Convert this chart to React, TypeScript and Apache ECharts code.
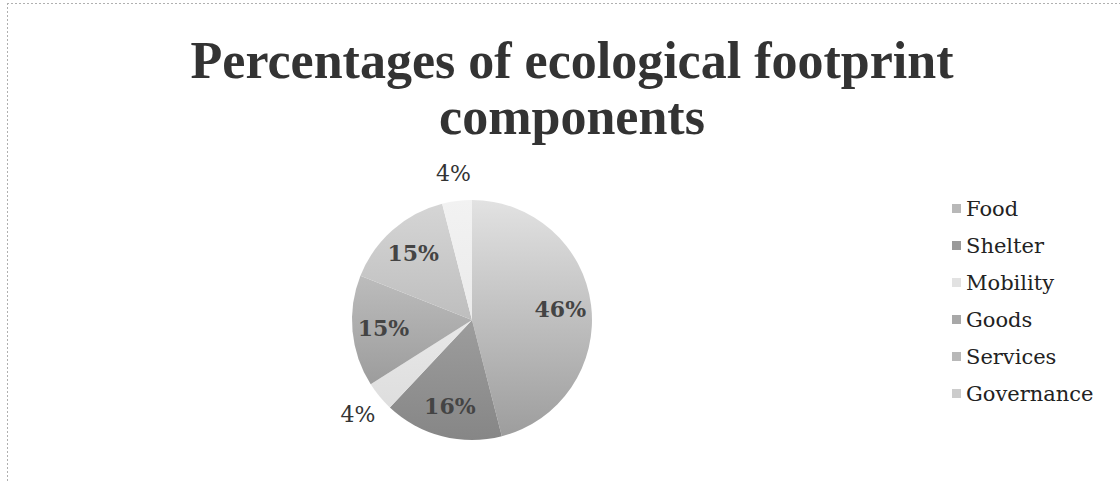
import React, { useEffect, useRef } from "react";
import * as echarts from "echarts";

const titleLines = ["Percentages of ecological footprint", "components"];
const categories = ["Food", "Shelter", "Mobility", "Goods", "Services", "Governance"];
const values = [46, 16, 4, 15, 15, 4];
const insideLabelled = [true, true, false, true, true, false];
const sliceTop = ["#e2e2e2", "#b4b4b4", "#f6f6f6", "#d2d2d2", "#d6d6d6", "#f2f2f2"];
const sliceBottom = ["#9c9c9c", "#868686", "#dadada", "#8c8c8c", "#a6a6a6", "#e4e4e4"];
const legendColors = ["#b8b8b8", "#9a9a9a", "#e2e2e2", "#a8a8a8", "#b8b8b8", "#cccccc"];

const CX = 472;
const CY = 320;
const R = 120;

export default function App() {
  const ref = useRef<HTMLDivElement>(null);

  useEffect(() => {
    if (!ref.current) return;
    const chart = echarts.init(ref.current, undefined, { renderer: "svg" });

    const grad = (i: number) => ({
      type: "linear",
      x: 0,
      y: CY - R,
      x2: 0,
      y2: CY + R,
      global: true,
      colorStops: [
        { offset: 0, color: sliceTop[i] },
        { offset: 1, color: sliceBottom[i] },
      ],
    });

    const transparent = { color: "rgba(0,0,0,0)", borderWidth: 0 };

    const option: any = {
      animation: false,
      backgroundColor: "#ffffff",
      graphic: [
        {
          type: "line",
          shape: { x1: 7, y1: 3.5, x2: 1120, y2: 3.5 },
          style: { stroke: "#b0b0b0", lineWidth: 1, lineDash: [2, 2] },
          silent: true,
        },
        {
          type: "line",
          shape: { x1: 7.5, y1: 3, x2: 7.5, y2: 482 },
          style: { stroke: "#b0b0b0", lineWidth: 1, lineDash: [2, 2] },
          silent: true,
        },
        ...titleLines.map((t, i) => ({
          type: "text",
          x: 572,
          y: 60 + i * 56,
          silent: true,
          style: {
            text: t,
            align: "center",
            verticalAlign: "middle",
            fill: "#333333",
            font: "bold 52px 'Liberation Serif'",
          },
        })),
      ],
      legend: {
        orient: "vertical",
        left: 947,
        top: 192,
        itemWidth: 9,
        itemHeight: 9,
        itemGap: 14,
        icon: "rect",
        selectedMode: false,
        textStyle: {
          fontFamily: "DejaVu Serif",
          fontSize: 21,
          lineHeight: 23,
          color: "#222222",
        },
        data: categories.map((c, i) => ({
          name: c,
          itemStyle: { color: legendColors[i] },
        })),
      },
      series: [
        {
          type: "pie",
          name: "main",
          center: [CX, CY],
          radius: [0, R],
          startAngle: 90,
          clockwise: true,
          avoidLabelOverlap: false,
          label: { show: false },
          labelLine: { show: false },
          emphasis: { disabled: true },
          data: categories.map((c, i) => ({
            name: c,
            value: values[i],
            itemStyle: { color: grad(i), borderWidth: 0 },
          })),
        },
        {
          type: "pie",
          name: "innerLabels",
          center: [CX, CY],
          radius: [0, 172],
          startAngle: 90,
          clockwise: true,
          silent: true,
          avoidLabelOverlap: false,
          emphasis: { disabled: true },
          labelLine: { show: false },
          itemStyle: transparent,
          label: {
            position: "inside",
            formatter: "{c}%",
            fontFamily: "DejaVu Serif",
            fontWeight: "bold",
            fontSize: 22,
            color: "#444444",
          },
          data: categories.map((c, i) => ({
            name: c,
            value: values[i],
            label: { show: insideLabelled[i] },
          })),
        },
        {
          type: "pie",
          name: "outerLabels",
          center: [CX, CY],
          radius: [0, 290],
          startAngle: 90,
          clockwise: true,
          silent: true,
          avoidLabelOverlap: false,
          emphasis: { disabled: true },
          labelLine: { show: false },
          itemStyle: transparent,
          label: {
            position: "inside",
            formatter: "{c}%",
            fontFamily: "DejaVu Serif",
            fontSize: 22,
            color: "#333333",
          },
          data: categories.map((c, i) => ({
            name: c,
            value: values[i],
            label: { show: !insideLabelled[i] },
          })),
        },
      ],
    };

    chart.setOption(option);
    return () => chart.dispose();
  }, []);

  return (
    <div
      ref={ref}
      style={{ position: "absolute", left: 0, top: 0, width: 1120, height: 482 }}
    />
  );
}
